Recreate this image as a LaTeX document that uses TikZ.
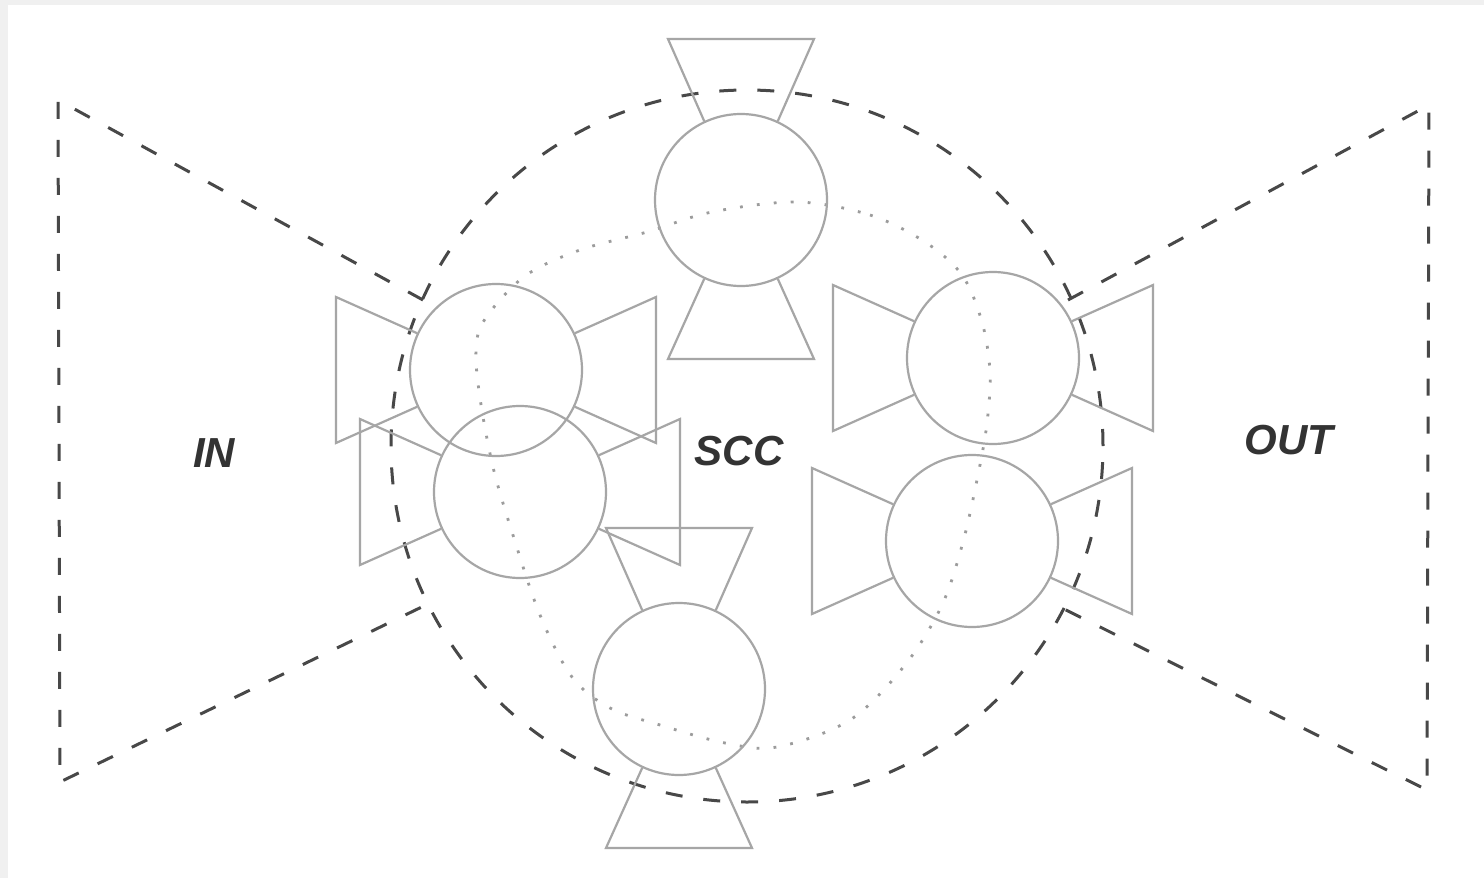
\documentclass[tikz,border=0pt]{standalone}
\usepackage{fontspec}
\setmainfont{Liberation Sans}
\usetikzlibrary{calc}
\definecolor{framegray}{HTML}{F0F0F0}
\definecolor{dashcol}{HTML}{484848}
\definecolor{unitcol}{HTML}{A6A6A6}
\definecolor{dotcol}{HTML}{9C9C9C}
\definecolor{textcol}{HTML}{333333}
\tikzset{
  bigdash/.style={draw=dashcol, line width=3pt, dash pattern=on 17pt off 21pt},
  unitline/.style={draw=unitcol, line width=2.2pt, line join=miter},
  unitcircle/.style={circle, draw=unitcol, line width=2.2pt, minimum size=172pt, inner sep=0pt},
  dotline/.style={draw=dotcol, line width=2.8pt, dash pattern=on 2.8pt off 14.2pt},
  label/.style={text=textcol, inner sep=0pt, font=\fontsize{42}{48}\selectfont\bfseries\itshape}
}
\newcommand\wingsH[1]{%
  \draw[unitline] (#1.25) -- ($(#1.center)+(160,-73)$) -- ($(#1.center)+(160,73)$) -- (#1.-25);
  \draw[unitline] (#1.155) -- ($(#1.center)+(-160,-73)$) -- ($(#1.center)+(-160,73)$) -- (#1.205);}
\newcommand\wingsV[1]{%
  \draw[unitline] (#1.65) -- ($(#1.center)+(73,-161)$) -- ($(#1.center)+(-73,-161)$) -- (#1.115);
  \draw[unitline] (#1.-65) -- ($(#1.center)+(73,159)$) -- ($(#1.center)+(-73,159)$) -- (#1.-115);}
\begin{document}
\begin{tikzpicture}[x=1pt,y=-1pt]
\fill[framegray] (0,0) rectangle (1484,878);
\fill[white] (8,5) rectangle (1484,878);
\useasboundingbox (0,0) rectangle (1484,878);

% big SCC circle
\node[circle, bigdash, minimum size=712pt, inner sep=0pt] (scc) at (747,446) {};

% IN and OUT bow-tie halves
\coordinate (in1) at (58,100);
\coordinate (in2) at (423,300);
\coordinate (in3) at (430,603);
\coordinate (in4) at (60,782);
\draw[bigdash] (in2) -- (in1) -- (in4) -- (in3);
\coordinate (out1) at (1429,105);
\coordinate (out2) at (1068,300);
\coordinate (out3) at (1062,608);
\coordinate (out4) at (1427,790);
\draw[bigdash] (out2) -- (out1) -- (out4) -- (out3);

% dotted inner cycle
\draw[dotline] plot[smooth cycle, tension=0.55] coordinates {
  (797,202) (870,215) (925,242) (962,275) (982,322) (990,372) (987,423)
  (978,475) (963,542) (942,605) (905,665) (850,720) (777,747) (725,743)
  (660,725) (610,708) (572,677) (540,615) (512,532) (493,467) (480,398)
  (476,350) (485,319) (525,276) (580,250) (647,232) (712,212)};

% small units
\node[unitcircle] (ut) at (741,200) {};
\node[unitcircle] (ulu) at (496,370) {};
\node[unitcircle] (ull) at (520,492) {};
\node[unitcircle] (uru) at (993,358) {};
\node[unitcircle] (url) at (972,541) {};
\node[unitcircle] (ub) at (679,689) {};
\wingsV{ut}
\wingsH{ulu}
\wingsH{ull}
\wingsH{uru}
\wingsH{url}
\wingsV{ub}

% labels
\node[label] (lin) at (214,453) {IN};
\node[label] (lscc) at (739,451) {SCC};
\node[label] (lout) at (1289,440) {OUT};
\end{tikzpicture}
\end{document}
